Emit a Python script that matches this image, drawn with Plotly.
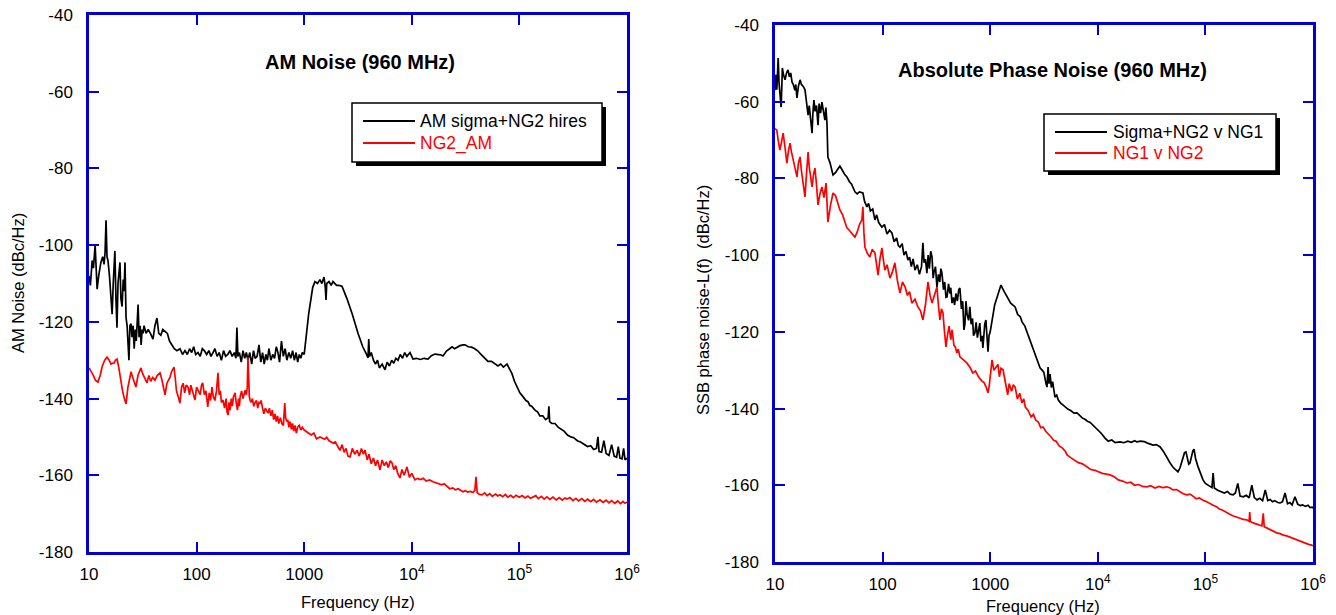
import plotly.graph_objects as go

W, H = 1336, 615

# ---------------- data ----------------
am_sigma_f = [10, 10.3, 10.7, 11.0, 11.4, 11.7, 11.9, 12.3, 12.9, 13.4, 13.8, 14.1, 14.4, 14.7, 15.0, 15.5, 16.0, 16.4, 16.8, 17.1,
              17.4, 17.8, 18.2, 18.6, 19.0, 19.4, 19.8, 20.3, 20.8, 21.2, 21.6, 22.1, 22.6, 23.0, 23.5, 24.0, 24.6, 25.1, 25.7, 26.3,
              26.9, 27.5, 28.0, 28.6, 29.2, 29.9, 30.5, 31.2, 31.8, 32.5, 33.9, 35.5, 37.2, 39.3, 41.0, 42.8, 44.5, 46.5, 48.5, 50.9,
              53.5, 56.0, 59.0, 62.0, 65.7, 70.0, 74, 78, 82, 86, 90, 94, 98, 103, 108, 113, 118, 124, 130, 136,
              142, 148, 155, 162, 170, 178, 186, 195, 204, 214, 224, 232, 237, 242, 250, 260, 270, 280, 290, 300,
              312, 325, 338, 350, 365, 380, 395, 410, 425, 440, 455, 470, 490, 510, 530, 550, 570, 590, 615, 640,
              665, 690, 720, 750, 780, 810, 840, 870, 900, 930, 960, 1000, 1100, 1200, 1260, 1330, 1400, 1460, 1528, 1570,
              1595, 1620, 1700, 1780, 1850, 1931, 2000, 2100, 2245, 2500, 2800, 3162, 3500, 3800, 3918, 3980, 4050, 4200, 4400, 4600,
              4800, 5000, 5300, 5637, 5900, 6200, 6500, 6800, 7100, 7447, 7800, 8200, 8600, 9000, 9626, 10260, 11000, 12000, 13000, 14130,
              15200, 16430, 17500, 18500, 19500, 21000, 22500, 23640, 25000, 26500, 28000, 30000, 31200, 33500, 36000, 38500, 41200, 44000, 47900, 51000,
              55000, 59000, 63200, 67000, 71000, 76700, 80000, 85300, 90000, 95000, 101000, 108000, 115000, 120000, 125000, 130000, 139700, 148000, 155000, 165000,
              175000, 185000, 188000, 191000, 200000, 214000, 230000, 245000, 260000, 280000, 300000, 320000, 345000, 370000, 400000, 430000, 460000, 490000, 520000, 537000,
              550000, 580000, 610000, 640000, 680000, 720000, 760000, 800000, 830000, 860000, 900000, 930000, 960000, 1000000]
am_sigma_db = [-108, -110.5, -104, -106, -100, -106, -111.5, -108, -104.5, -103, -105, -102, -93.5, -103, -104, -108, -114, -118, -110, -105,
               -101.5, -114, -121.5, -110, -106, -104.5, -114, -116, -109, -112, -104.5, -119, -121, -125, -130, -121, -120.5, -124, -121, -127,
               -122, -125, -120, -115.5, -124, -121, -126, -122, -123, -121, -123, -122, -123, -124.5, -121, -119, -123, -123.5, -122, -122.5,
               -123, -125, -126, -127, -127.5, -127, -128.5, -127.5, -128.5, -127, -128, -126.5, -128.5, -128, -129, -127, -127.5, -128.5, -127.5, -129,
               -128, -127, -129, -128, -130, -127.5, -129, -128.5, -127.5, -129, -128, -129.5, -121.5, -129, -128, -130.5, -127.5, -129.5, -128, -130,
               -128, -131, -127.5, -129.5, -129, -126, -130.5, -128, -131, -128.5, -130, -127, -130, -128.5, -129.5, -126.5, -128, -130.5, -125, -129,
               -127, -130, -128, -129.5, -127.5, -130, -128, -130.5, -128.5, -129.5, -128, -128.5, -118, -111, -109.5, -110, -109, -110, -108.3, -111,
               -114.3, -110, -109.5, -110.5, -109.5, -110, -110.5, -110.5, -110.7, -114, -118, -123, -126.5, -128.5, -129.4, -124.5, -129, -128, -130, -131,
               -130, -132, -131, -132.5, -130.5, -131.5, -130, -130.8, -129.5, -130, -128.5, -129.5, -128, -129, -128, -129.7, -129.5, -129.8, -129.5, -129.7,
               -128.8, -128.4, -128.5, -128.6, -128.9, -127.6, -127, -126.5, -127, -126.5, -126.2, -126, -126, -126.5, -126.6, -127, -127.6, -128.5, -129.7, -130.3,
               -130.3, -131, -131.5, -131, -131.8, -131, -132, -133.5, -135.5, -137, -138.5, -139.5, -140.5, -140.8, -141.8, -142, -143, -143.5, -144.5, -144.5,
               -145.5, -145, -142, -146, -146.5, -146.5, -147.5, -148, -148.5, -149.5, -150, -150.2, -151, -151.3, -152, -152.5, -152.3, -153.3, -153, -150,
               -153.8, -154, -151, -154.3, -154.8, -152, -155, -155.3, -152.5, -155.5, -155.7, -153, -156, -155.5]

ng2_am_f = [10, 10.5, 11.0, 11.5, 12.1, 12.7, 13.3, 14.0, 14.7, 15.4, 16.0, 16.5, 17.1, 17.6, 18.2, 18.8, 19.4, 19.8, 20.5, 21.3,
            22.1, 23.0, 24.0, 24.6, 25.5, 26.4, 27.3, 28.5, 29.4, 30.4, 31.5, 33.0, 34.6, 36.0, 37.5, 39.0, 41.0, 43.0, 45.7, 47.5,
            49.0, 50.9, 53.0, 55.0, 56.6, 58.5, 60.0, 61.6, 63.5, 65.0, 67.5, 70.0, 72.5, 75.0, 77.5, 80.0, 83.2, 86.0, 88.5, 91.0,
            93.5, 96.6, 100, 104, 108, 111, 114, 118, 122, 127, 131, 135, 139, 143, 148, 153, 158, 162, 166, 170,
            176, 182, 188, 192, 196, 200, 205, 210, 215, 220, 228, 233, 240, 245, 250, 254, 262, 270, 278, 283,
            290, 296, 300, 304, 309, 314, 322, 330, 340, 350, 360, 370, 380, 388, 398, 410, 422, 435, 450, 461,
            475, 490, 505, 520, 535, 550, 565, 580, 600, 620, 640, 660, 672, 690, 706, 720, 740, 760, 780, 800,
            820, 845, 870, 900, 930, 960, 1000, 1040, 1100, 1160, 1230, 1300, 1403, 1480, 1550, 1620, 1700, 1852, 1950, 2050,
            2150, 2250, 2350, 2450, 2550, 2667, 2800, 2950, 3100, 3250, 3400, 3550, 3673, 3850, 4000, 4200, 4400, 4600, 4800, 5062,
            5300, 5550, 5800, 6050, 6300, 6547, 6800, 7100, 7400, 7766, 8100, 8500, 9020, 9500, 10000, 10700, 11300, 12000, 12800, 13600,
            14600, 15740, 16800, 17800, 19000, 20000, 21230, 22500, 24000, 25500, 27000, 28500, 29900, 31500, 33000, 35000, 37000, 38500, 39500, 40500,
            42500, 44900, 47500, 50000, 53000, 56000, 60000, 63000, 66000, 70000, 74000, 78000, 83000, 88000, 93000, 100000, 106000, 113000, 120000, 127000,
            133700, 142000, 150000, 160000, 170000, 180000, 192000, 205000, 220000, 235000, 250000, 265000, 277000, 295000, 315000, 335000, 355000, 380000, 405000, 430000,
            460000, 490000, 520000, 561000, 600000, 640000, 680000, 720000, 770000, 820000, 870000, 920000, 957000, 1000000]
ng2_am_db = [-132, -133, -134, -135.3, -135.7, -134, -131.5, -130, -129.2, -130, -131, -130.8, -130.7, -130, -129.7, -131.5, -134, -135.7, -138, -140,
             -141.4, -137, -134, -133, -134.5, -136, -137, -134, -133, -132, -133.5, -134.5, -135.9, -134, -135.5, -134.5, -135.2, -134, -133.3, -135,
             -137, -139, -136, -135, -134.4, -133, -132.5, -131.8, -135, -138, -139.5, -141.2, -137, -136, -138.5, -136.5, -137, -139, -136.5, -138,
             -139.5, -140.4, -137, -138, -139, -136.5, -135.9, -139, -138, -142.2, -138.5, -140.5, -137, -139.5, -140.5, -138, -133.3, -139, -138, -141,
             -140.4, -142.5, -140, -143.5, -144.3, -141, -143, -140, -142, -139.5, -138.5, -141, -143, -140, -142, -139.5, -138, -140, -138.5, -137.8,
             -139, -137, -129.2, -137, -139.5, -140.4, -141, -140, -142, -141, -140.5, -142.5, -141, -141.2, -140.5, -142.5, -144, -142.5, -143.5, -143.8,
             -142.5, -144.5, -143, -145.5, -144, -146, -144.5, -146.5, -145, -146.5, -147, -141.2, -145, -146, -145.6, -147.5, -146, -148, -146.5, -148.5,
             -147, -149, -147.4, -147, -148.2, -147.5, -148.2, -148.5, -149, -149.5, -149, -150.5, -150, -150.3, -150.6, -150.1, -151, -151.6, -151.3, -152.5,
             -153.5, -152, -154, -153, -155, -155.2, -153, -154.5, -153.5, -155, -153, -154.5, -153.4, -156, -154.5, -157, -155.5, -157.5, -156, -158.6,
             -156, -157.5, -156.5, -158, -156.2, -156.8, -158.5, -157.5, -159.5, -160.7, -158.5, -160, -157.8, -160.5, -159.5, -161.2, -160.8, -161.1, -160.8, -161.5,
             -161.2, -161.7, -162, -162.2, -162.5, -162.2, -163, -163.5, -163.3, -163.8, -163.5, -164, -164.3, -164, -164.4, -164.2, -164.5, -164, -160.4, -164.5,
             -165, -165.1, -164.6, -165.3, -164.8, -165.5, -164.9, -165.4, -165.1, -165.6, -165, -165.7, -165.2, -165.8, -165.2, -165.7, -165.3, -165.9, -165.4, -166,
             -165.6, -165.3, -166.1, -165.5, -166.2, -165.6, -166.3, -165.7, -166.4, -165.8, -166.5, -165.9, -166.2, -165.8, -166.6, -166, -166.7, -166.1, -166.8, -166.2,
             -166.9, -166.3, -167, -166.4, -167.1, -166.5, -167.2, -166.6, -167.3, -166.7, -167.4, -166.8, -167.3, -167]

pn_sigma_f = [10, 10.2, 10.4, 10.6, 10.7, 10.9, 11.1, 11.4, 11.6, 11.7, 12.0, 12.4, 12.8, 13.2, 13.6, 14.0, 14.4, 14.8, 15.3, 15.6,
              16.0, 16.5, 17.1, 17.6, 18.3, 19.0, 19.6, 20.3, 20.8, 21.5, 22.1, 22.5, 23.0, 23.6, 24.3, 25.1, 25.7, 26.5, 27.3, 28.2,
              29.1, 29.7, 30.4, 31.0, 32.5, 34.6, 36.5, 38.5, 40.1, 42.5, 44.5, 46.6, 49.0, 51.5, 55.3, 58, 61, 65.6, 68, 71.4,
              74, 77, 81, 84.8, 88, 92, 98.5, 104, 110, 116, 122, 128, 135, 140, 145, 152, 158, 165, 172, 178,
              185, 192, 200, 210, 220, 230, 237, 243, 250, 258, 265, 272, 280, 288, 295, 300, 310, 320, 330, 340,
              348, 356, 368, 378, 388, 397, 410, 422, 430, 442, 455, 467, 480, 495, 510, 523, 540, 555, 570, 582,
              595, 610, 630, 647, 665, 685, 700, 720, 740, 760, 780, 801, 820, 840, 855, 870, 890, 912, 930, 954,
              975, 1000, 1100, 1259, 1350, 1450, 1550, 1705, 1800, 1900, 1977, 2100, 2300, 2600, 2904, 3018, 3150, 3300, 3373, 3450,
              3520, 3600, 3700, 3800, 3900, 4000, 4150, 4300, 4500, 4750, 5000, 5300, 5600, 6000, 6410, 6800, 7200, 7600, 8000, 8500,
              9020, 9500, 10000, 10800, 11660, 12500, 13500, 14500, 16070, 17500, 19000, 20500, 22000, 23100, 25000, 27000, 29000, 32600, 35000, 38000,
              41000, 44000, 47000, 50000, 53000, 55600, 58000, 61000, 64000, 66000, 68000, 70000, 71900, 74000, 76500, 78400, 81000, 85000, 90000, 95000,
              100000, 108000, 115000, 118000, 121000, 130000, 140000, 150000, 160000, 170000, 181000, 190000, 200000, 210000, 225000, 240000, 255000, 270000, 285000, 302000,
              320000, 340000, 360000, 380000, 400000, 420000, 440000, 470000, 494000, 520000, 550000, 580000, 610000, 640000, 680000, 720000, 760000, 800000, 850000, 900000,
              940000, 979000, 1000000]
pn_sigma_db = [-57, -53, -56.9, -50, -48.6, -55, -58, -61.4, -55, -51.2, -53, -54.3, -52.5, -51.7, -53.5, -52.5, -54.9, -55.5, -57, -55.5,
               -59, -56, -54.3, -55.5, -56, -56.9, -60, -63.5, -61, -65, -68.2, -63, -59.6, -62.5, -61, -66.1, -60.5, -63, -60.1, -62.5,
               -64.8, -61.5, -65.5, -74.4, -76, -79.1, -78.5, -77.5, -76.8, -78, -79, -79.6, -80.8, -81.5, -83.5, -84, -83.5, -83.8, -86, -87.4,
               -86.5, -88.5, -88, -90.8, -89.5, -91.5, -92.7, -92, -94.5, -93.5, -94.2, -96.5, -95.5, -97.5, -97.9, -97, -100, -99, -101.3, -100.5,
               -103, -101, -103.9, -102.5, -105, -103, -96.8, -102, -101, -104.7, -100, -103.5, -99, -100.5, -106, -104.5, -103, -108.3, -105, -107,
               -103.5, -104.7, -109, -107, -111, -110.9, -107.5, -110, -108.5, -112.5, -111, -113, -110, -112, -109, -108.6, -114, -112, -119.5, -118,
               -112, -115.5, -117, -113.5, -118, -116.5, -121, -120.3, -117.5, -121.5, -119, -117.7, -122.5, -121, -124.2, -121, -118, -116.9, -122, -125.2,
               -121, -120, -113, -107.8, -109.5, -111, -112.5, -113.5, -115.5, -116, -117.4, -118.5, -121.5, -125.5, -129.4, -129.9, -130.5, -133.5, -134.4, -129.2,
               -133.5, -131, -134.5, -133, -135.5, -137, -136.5, -137.8, -138.5, -139.1, -139.8, -140.2, -140.5, -141.2, -141.1, -141.8, -142.5, -142.8, -143.3, -143.6,
               -144.3, -144.9, -145.5, -146.5, -147.7, -148.5, -148.2, -148.9, -148.7, -148.9, -148.5, -148.8, -148.4, -148.7, -148.5, -148.6, -149, -149.5, -149.4, -150,
               -151.3, -152.9, -154.2, -155.3, -156, -156.5, -155.5, -153.5, -151.5, -151.3, -153.5, -154.5, -154.2, -152.5, -151, -150.6, -153, -155, -157, -158.6,
               -159.5, -160.2, -160.6, -156.8, -160.7, -161.3, -161.6, -162, -161.6, -162.3, -162.5, -162, -159.5, -162.8, -163, -162.6, -163.3, -160, -163.2, -163.8,
               -163.4, -164, -161.2, -164, -163.7, -164.3, -164, -164.5, -164.6, -164.3, -162, -164.8, -164.5, -165.1, -163, -164.9, -165.3, -165.1, -165.5, -165.2,
               -165.8, -165.7, -166]

pn_ng1_f = [10, 10.4, 10.7, 11.1, 11.5, 11.9, 12.4, 12.9, 13.3, 13.8, 14.2, 14.7, 15.3, 16.0, 16.5, 17.1, 17.6, 18.3, 19.0, 19.6,
            20.3, 20.8, 21.5, 22.1, 22.8, 23.5, 24.2, 25.1, 26.2, 27.3, 28.5, 29.8, 30.4, 31.0, 32.8, 34.6, 36.5, 38.3, 40.1, 42.5,
            44.5, 46.6, 49, 52, 55.3, 58, 61, 64.2, 65.6, 67, 68.5, 72, 76.1, 80, 84.8, 87.5, 90.7, 94.5, 98.5, 102,
            105, 110, 117, 123, 130, 137, 145, 153, 162, 170, 178, 187, 200, 213, 225, 237, 250, 264, 276, 288,
            304, 320, 330, 341, 352, 364, 376, 388, 400, 415, 430, 442, 460, 475, 490, 505, 523, 560, 606, 650,
            690, 730, 780, 830, 880, 920, 954, 980, 1000, 1040, 1080, 1130, 1180, 1217, 1260, 1316, 1380, 1455, 1500, 1580,
            1640, 1705, 1790, 1880, 1970, 2050, 2120, 2250, 2400, 2520, 2650, 2800, 2950, 3100, 3300, 3500, 3680, 3900, 4100, 4400,
            4700, 5000, 5180, 5600, 6100, 6600, 7200, 7920, 8600, 9400, 10200, 11000, 12000, 12990, 14200, 15500, 17000, 18670, 20200, 22000,
            24000, 26000, 28600, 31000, 34000, 37000, 40000, 44000, 47000, 50000, 54000, 58000, 62000, 67400, 72000, 77000, 82000, 88000, 95000, 103000,
            110000, 118000, 127000, 135000, 145000, 158000, 170000, 182000, 195000, 210000, 225000, 242000, 255000, 258000, 262000, 275000, 290000, 305000, 320000, 335000,
            345000, 352000, 371000, 400000, 430000, 460000, 495000, 530000, 570000, 606000, 650000, 700000, 750000, 800000, 850000, 910000, 973000, 1000000]
pn_ng1_db = [-67, -67.4, -70, -72.6, -70.5, -68.2, -72, -76, -73, -70.8, -73, -75.2, -77.5, -79.6, -76, -74.4, -78, -81, -84.8, -79,
             -73.1, -77, -80, -82.2, -79, -77.3, -81, -86.9, -84, -82.2, -85, -81.2, -86, -91.4, -87, -83.8, -84.5, -86.5, -88.2, -89.5,
             -91, -92.9, -93.5, -94.5, -95.3, -94, -92, -90.8, -87.4, -94, -97.9, -99.5, -100.5, -98.5, -99.4, -102, -105.2, -101, -98.1, -101.5,
             -103.9, -102.5, -106, -104.5, -102, -106.5, -109.9, -107, -108.3, -110.5, -109.5, -112.5, -111.5, -113.5, -114.5, -116.9, -113, -107, -110.5, -112.5,
             -110, -108.3, -113, -116.9, -114, -115.1, -120, -123.9, -121, -118.5, -122, -119.5, -123.5, -124, -125.5, -124.5, -126.5, -127.2, -128.1, -129.3,
             -130.7, -130.2, -131.8, -132.7, -133.3, -134.5, -135.9, -134, -132, -127.3, -130, -129.2, -128.5, -131.7, -129.5, -129.9, -133, -136.4, -133.5, -135.5,
             -133.8, -134.4, -137.5, -136, -138.5, -137.5, -139.6, -140.5, -142.2, -141.5, -143, -143.5, -145, -144.8, -146, -146.7, -147.4, -148.3, -148.5, -149.8,
             -150.3, -151.2, -152.1, -152.8, -153.4, -154.1, -154.4, -155.2, -155.9, -156.1, -156.6, -156.9, -157.1, -157.3, -157.8, -158.6, -158.9, -159.4, -159.2, -160,
             -159.8, -160.3, -160.4, -160.1, -160.7, -160.3, -160.6, -160.4, -160.7, -161.2, -161.1, -161.6, -162.2, -162.5, -162.3, -162.9, -163.5, -163.3, -163.9, -164.3,
             -164.8, -165.2, -165.6, -166.2, -166.5, -167.2, -167.6, -168, -168.2, -168.6, -168.9, -169, -169.4, -167, -169.5, -169.8, -170, -170.2, -170.5, -170.6,
             -167.3, -170.8, -171.1, -171.6, -172, -172.4, -172.6, -173, -173.2, -173.5, -173.9, -174.3, -174.6, -174.9, -175.1, -175.4, -175.6, -175.8]

y_ticks = [-180, -160, -140, -120, -100, -80, -60, -40]
y_tick_text = ["-180", "-160", "-140", "-120", "-100", "-80", "-60", "-40"]
x_ticks = [10, 100, 1000, 10000, 100000, 1000000]
x_tick_text = ["10", "100", "1000", "10<sup>4</sup>", "10<sup>5</sup>", "10<sup>6</sup>"]

# ---------------- figure ----------------
BLUE = "#0000D2"
FONT = "Liberation Sans, Arial, sans-serif"

def px(x):
    return x / W

def py(y):
    return 1 - y / H

fig = go.Figure()
fig.add_trace(go.Scatter(x=am_sigma_f, y=am_sigma_db, mode="lines", line=dict(color="black", width=1.7),
                         name="AM sigma+NG2 hires", xaxis="x", yaxis="y", showlegend=False))
fig.add_trace(go.Scatter(x=ng2_am_f, y=ng2_am_db, mode="lines", line=dict(color="#FF0000", width=1.7),
                         name="NG2_AM", xaxis="x", yaxis="y", showlegend=False))
fig.add_trace(go.Scatter(x=pn_sigma_f, y=pn_sigma_db, mode="lines", line=dict(color="black", width=1.7),
                         name="Sigma+NG2 v NG1", xaxis="x2", yaxis="y2", showlegend=False))
fig.add_trace(go.Scatter(x=pn_ng1_f, y=pn_ng1_db, mode="lines", line=dict(color="#FF0000", width=1.7),
                         name="NG1 v NG2", xaxis="x2", yaxis="y2", showlegend=False))

common_x = dict(type="log", range=[1, 6], tickvals=x_ticks, ticktext=x_tick_text, ticks="inside", ticklen=10,
                tickwidth=2, tickcolor=BLUE, showline=True, linecolor=BLUE, linewidth=2.5, mirror="ticks",
                showgrid=False, zeroline=False, tickfont=dict(family=FONT, size=17, color="black"),
                ticklabelstandoff=5, automargin=False)
common_y = dict(range=[-180, -40], tickvals=y_ticks, ticktext=y_tick_text, ticks="inside", ticklen=10, tickwidth=2,
                tickcolor=BLUE, showline=True, linecolor=BLUE, linewidth=2.5, mirror="ticks", showgrid=False,
                zeroline=False, tickfont=dict(family=FONT, size=17, color="black"), ticklabelstandoff=10,
                automargin=False)

fig.update_layout(
    width=W, height=H, margin=dict(l=0, r=0, t=0, b=0, autoexpand=False),
    paper_bgcolor="white", plot_bgcolor="white", showlegend=False,
    xaxis=dict(domain=[px(89), px(627)], anchor="y", **common_x),
    yaxis=dict(domain=[py(552), py(15)], anchor="x", **common_y),
    xaxis2=dict(domain=[px(775), px(1313)], anchor="y2", **common_x),
    yaxis2=dict(domain=[py(562), py(25)], anchor="x2", **common_y),
)

annotations = []
shapes = []

def text(x, y, s, size=16, color="black", bold=False, angle=0, xanchor="center"):
    annotations.append(dict(x=px(x), y=py(y), xref="paper", yref="paper", text=("<b>%s</b>" % s) if bold else s,
                            showarrow=False, xanchor=xanchor, yanchor="middle", textangle=angle,
                            font=dict(family=FONT, size=size, color=color)))

# titles
text(360, 62, "AM Noise (960 MHz)", size=20, bold=True)
text(1052, 70, "Absolute Phase Noise (960 MHz)", size=20, bold=True)
# axis titles
text(18, 283, "AM Noise (dBc/Hz)", size=16.5, angle=-90)
text(358, 602, "Frequency (Hz)", size=16.5)
text(703, 300, "SSB phase noise-L(f)  (dBc/Hz)", size=16.5, angle=-90)
text(1043, 606, "Frequency (Hz)", size=16.5)

def legend_box(x0, y0, x1, y1, entries, lx0, lx1, tx):
    shapes.append(dict(type="rect", xref="paper", yref="paper", x0=px(x0 + 4), x1=px(x1 + 4), y0=py(y1 + 4), y1=py(y0 + 4),
                       fillcolor="black", line=dict(width=0), layer="above"))
    shapes.append(dict(type="rect", xref="paper", yref="paper", x0=px(x0), x1=px(x1), y0=py(y1), y1=py(y0),
                       fillcolor="white", line=dict(color="black", width=1.5), layer="above"))
    for yy, label, col in entries:
        shapes.append(dict(type="line", xref="paper", yref="paper", x0=px(lx0), x1=px(lx1), y0=py(yy), y1=py(yy),
                           line=dict(color=col, width=2), layer="above"))
        text(tx, yy, label, size=17.5, color=col, xanchor="left")

legend_box(352, 103, 602, 162, [(121, "AM sigma+NG2 hires", "black"), (143, "NG2_AM", "#FF0000")], 363, 415, 418)
legend_box(1044, 114, 1276, 171, [(132, "Sigma+NG2 v NG1", "black"), (153, "NG1 v NG2", "#FF0000")], 1055, 1107, 1111)

fig.update_layout(annotations=annotations, shapes=shapes)
fig.write_html("out.html")
